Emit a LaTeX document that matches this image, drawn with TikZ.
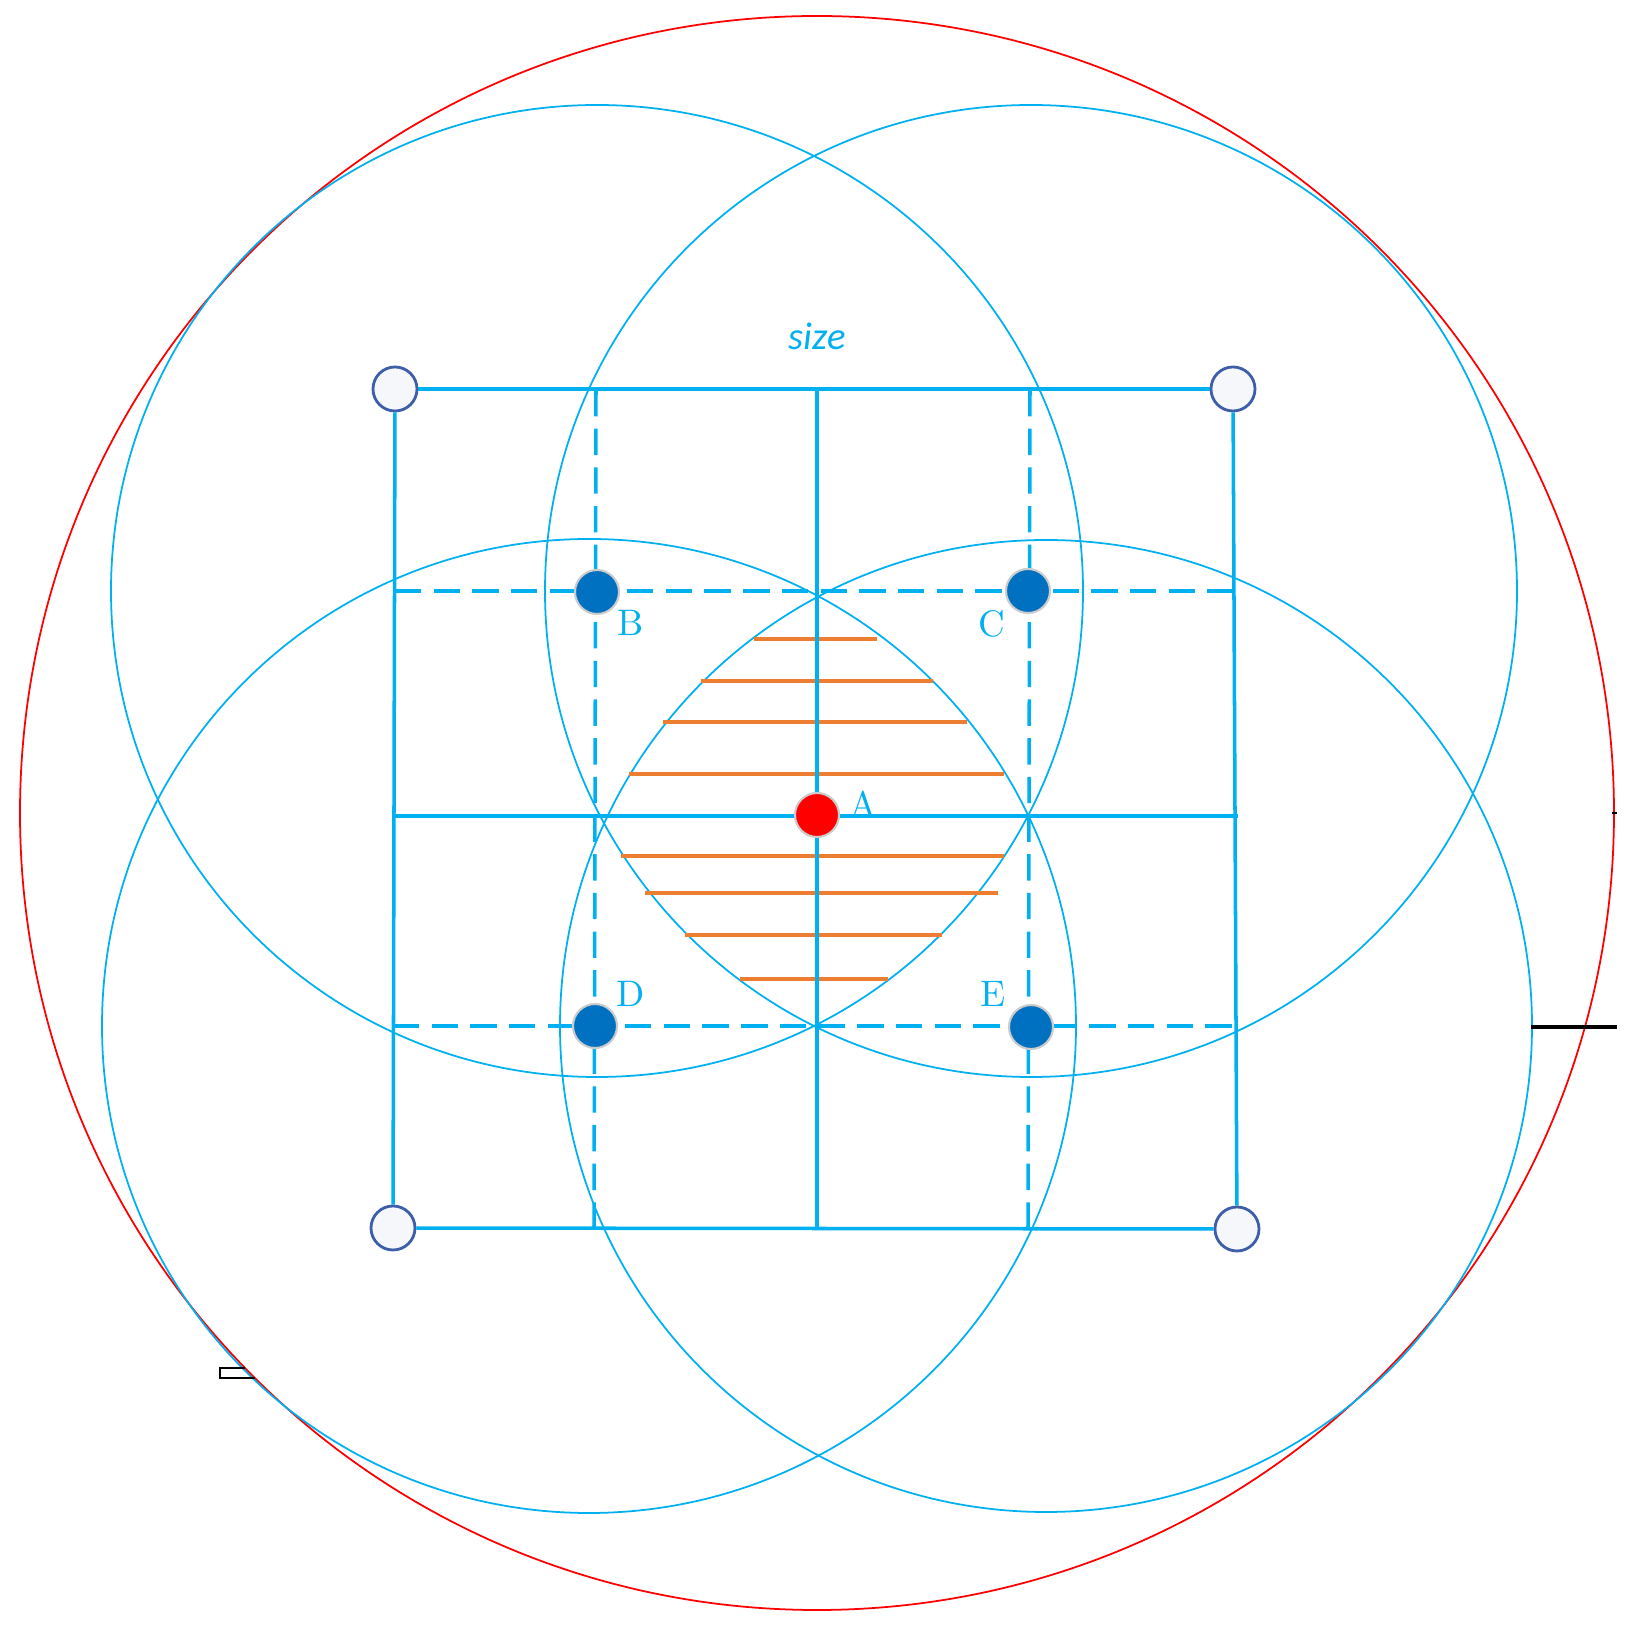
\documentclass[tikz,border=0pt]{standalone}
\usepackage{fontspec}
\newfontfamily\sizefont{Carlito}
\usetikzlibrary{positioning}
\definecolor{gridblue}{RGB}{0,176,240}
\definecolor{dotblue}{RGB}{0,112,192}
\definecolor{hatchorange}{RGB}{237,125,49}
\definecolor{ringblue}{RGB}{62,94,170}
\definecolor{cornerfill}{RGB}{246,247,251}

\begin{document}
\begin{tikzpicture}[x=0.01cm, y=-0.01cm,
  corner_node/.style={circle,draw=ringblue,line width=0.8pt,fill=cornerfill,minimum size=0.44cm,inner sep=0pt},
  dot_node/.style={circle,draw=black!20,line width=0.6pt,fill=dotblue,minimum size=0.44cm,inner sep=0pt},
  grid_line/.style={gridblue,line width=1pt},
  dash_line/.style={gridblue,line width=1pt,dash pattern=on 7.5pt off 3.5pt},
  ring/.style={gridblue,line width=0.5pt},
  hatch/.style={hatchorange,line width=0.9pt},
  letter/.style={text=gridblue,font=\fontsize{10.5}{12}\selectfont,inner sep=0pt}]
				\useasboundingbox (0,0) rectangle (1638,1628);

				% outer ring and the four circles
				\draw[red,line width=0.5pt] (817,813) circle[radius=797];
				\draw[ring] (597,591) circle[radius=486];
				\draw[ring] (1031,591) circle[radius=486];
				\draw[ring] (589,1026) circle[radius=487];
				\draw[ring] (1046,1026) circle[radius=486];

				% stray black marks
				\draw[black,line width=1pt] (1531,1027) -- (1617,1027);
				\draw[black,line width=0.8pt] (1612,813) -- (1617,813);
				\draw[black,line width=0.8pt] (245,1368) -- (220,1368) -- (220,1378) -- (255,1378);

				% hatching
				\draw[hatch] (754,639) -- (877,639);
				\draw[hatch] (701,681) -- (933,681);
				\draw[hatch] (663,722) -- (967,722);
				\draw[hatch] (629,774) -- (1004,774);
				\draw[hatch] (621,856) -- (1004,856);
				\draw[hatch] (645,893) -- (998,893);
				\draw[hatch] (685,935) -- (942,935);
				\draw[hatch] (740,979) -- (888,979);

				% grid points
				\coordinate (tm) at (817,390);
				\coordinate (bm) at (817,1228);
				\coordinate (lm) at (393,816);
				\coordinate (rm) at (1238,816);
				\coordinate (t1) at (596,390);
				\coordinate (b1) at (594,1228);
				\coordinate (t2) at (1030,390);
				\coordinate (b2) at (1028,1228);
				\coordinate (l1) at (395,591);
				\coordinate (r1) at (1233,591);
				\coordinate (l2) at (393,1026);
				\coordinate (r2) at (1238,1026);

				\node[corner_node] (tl) at (395,389) {};
				\node[corner_node] (tr) at (1233,389) {};
				\node[corner_node] (bl) at (393,1228) {};
				\node[corner_node] (br) at (1237,1229) {};

				\path[grid_line]
				(tl) edge (tr)
				(tr) edge (br)
				(br) edge (bl)
				(bl) edge (tl)
				(tm) edge (bm)
				(lm) edge (rm);
				\path[dash_line]
				(t1) edge (b1)
				(t2) edge (b2)
				(l1) edge (r1)
				(l2) edge (r2);

				\node[dot_node] (b) at (597,592) {};
				\node[dot_node] (c) at (1028,591) {};
				\node[dot_node] (d) at (595,1026) {};
				\node[dot_node] (e) at (1031,1027) {};
				\node[dot_node, fill=red] (a) at (817,815) {};

				\node[letter] (lb) at (631,623) {B};
				\node[letter] (lc) at (992,624) {C};
				\node[letter] (ld) at (631,994) {D};
				\node[letter] (le) at (993,994) {E};
				\node[letter] (la) at (863,804) {A};
				\node[text=gridblue,font=\sizefont\itshape\fontsize{11}{13}\selectfont] (size) at (817,336) {size};
			\end{tikzpicture}
\end{document}
